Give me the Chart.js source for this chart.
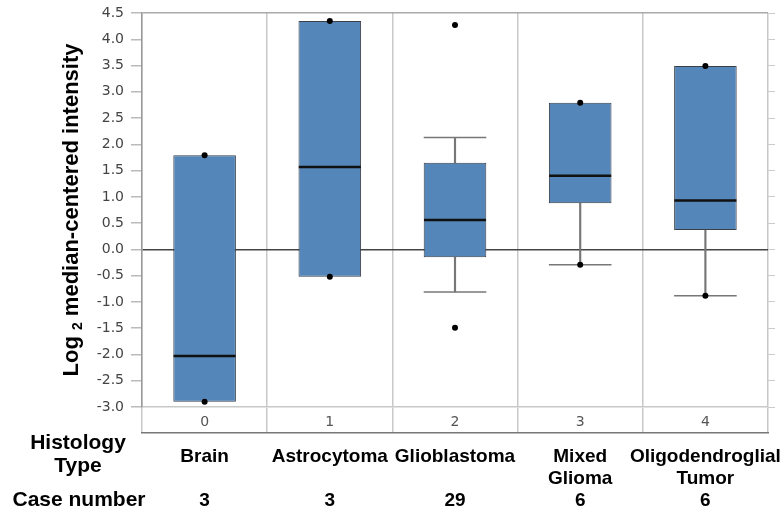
<!DOCTYPE html>
<html>
<head>
<meta charset="utf-8">
<script src="https://cdn.jsdelivr.net/npm/chart.js@4.4.1/dist/chart.umd.min.js"></script>
<style>
  html, body { margin: 0; padding: 0; background: #fff; }
  #wrap { width: 784px; height: 514px; }
</style>
</head>
<body>
<div id="wrap"><canvas id="box-chart"></canvas></div>
<script>
// Data
const categories = ['0', '1', '2', '3', '4'];
const histology = [['Brain'], ['Astrocytoma'], ['Glioblastoma'], ['Mixed', 'Glioma'], ['Oligodendroglial', 'Tumor']];
const caseNumbers = ['3', '3', '29', '6', '6'];

const q1 = [-2.90, -0.52, -0.15, 0.88, 0.37];
const median = [-2.03, 1.57, 0.56, 1.40, 0.93];
const q3 = [1.79, 4.35, 1.65, 2.79, 3.49];
const whiskerLow = [null, null, -0.81, -0.29, -0.88];
const whiskerHigh = [null, null, 2.13, null, null];

const dotCats = ['0', '0', '1', '1', '2', '2', '3', '3', '4', '4'];
const dotValues = [1.79, -2.90, 4.35, -0.52, 4.27, -1.49, 2.79, -0.29, 3.49, -0.88];

const tickFont = { family: "'DejaVu Sans', sans-serif", size: 14 };
const labelFont = { family: "'Liberation Sans', Arial, sans-serif", size: 19, weight: 'bold' };

// floating bars built from the arrays
const boxData = categories.map((c, i) => [q1[i], q3[i]]);
const lowStem = categories.map((c, i) => whiskerLow[i] == null ? null : [whiskerLow[i], q1[i]]);
const highStem = categories.map((c, i) => whiskerHigh[i] == null ? null : [q3[i], whiskerHigh[i]]);
const capData = [];
categories.forEach((c, i) => {
    if (whiskerLow[i] != null) capData.push({ x: c, y: whiskerLow[i] });
    if (whiskerHigh[i] != null) capData.push({ x: c, y: whiskerHigh[i] });
});
const dotData = dotCats.map((c, i) => ({ x: c, y: dotValues[i] }));

function noPad(s) {
    s.paddingLeft = 0;
    s.paddingRight = 0;
    s.paddingTop = 0;
    s.paddingBottom = 0;
}

// left side headers and y title
const sideText = {
    id: 'sideText',
    afterDraw(chart) {
        const ctx = chart.ctx;
        const area = chart.chartArea;
        const x2 = chart.scales.x2;
        const x3 = chart.scales.x3;
        ctx.save();
        ctx.fillStyle = '#000';
        ctx.textAlign = 'center';
        ctx.textBaseline = 'middle';
        ctx.font = "bold 21px 'Liberation Sans', Arial, sans-serif";
        ctx.fillText('Histology', 78, x2.top + 10);
        ctx.fillText('Type', 78, x2.top + 33);
        ctx.fillText('Case number', 79, x3.top + 11);

        // rotated y title with subscript
        const cy = (area.top + area.bottom) / 2;
        ctx.translate(72, cy);
        ctx.rotate(-Math.PI / 2);
        const big = "bold 22px 'Liberation Sans', Arial, sans-serif";
        const small = "bold 14px 'Liberation Sans', Arial, sans-serif";
        ctx.font = big;
        const w1 = ctx.measureText('Log ').width;
        const w3 = ctx.measureText(' median-centered intensity').width;
        ctx.font = small;
        const w2 = ctx.measureText('2').width;
        let x = -(w1 + w2 + w3) / 2;
        ctx.textAlign = 'left';
        ctx.font = big;
        ctx.fillText('Log ', x, 0);
        x += w1;
        ctx.font = small;
        ctx.fillText('2', x, 6);
        x += w2;
        ctx.font = big;
        ctx.fillText(' median-centered intensity', x, 0);
        ctx.restore();
    }
};

const ctx = document.getElementById('box-chart').getContext('2d');
new Chart(ctx, {
    type: 'bar',
    data: {
        labels: categories,
        datasets: [
            {
                type: 'line',
                label: 'points',
                data: dotData,
                showLine: false,
                pointRadius: 3,
                pointBackgroundColor: '#000',
                pointBorderWidth: 0,
                order: 0
            },
            {
                type: 'line',
                label: 'median',
                data: median,
                showLine: false,
                pointStyle: 'line',
                pointRadius: 31,
                pointBorderColor: '#111',
                pointBorderWidth: 2.5,
                order: 1
            },
            {
                type: 'line',
                label: 'caps',
                data: capData,
                showLine: false,
                pointStyle: 'line',
                pointRadius: 31.3,
                pointBorderColor: '#777',
                pointBorderWidth: 1.5,
                order: 2
            },
            {
                label: 'box',
                data: boxData,
                backgroundColor: '#5586b9',
                borderColor: '#3a3f48',
                borderWidth: 1,
                borderSkipped: false,
                grouped: false,
                categoryPercentage: 1,
                barPercentage: 0.5,
                order: 3
            },
            {
                label: 'low whisker',
                data: lowStem,
                backgroundColor: '#777',
                barThickness: 1.5,
                grouped: false,
                order: 4
            },
            {
                label: 'high whisker',
                data: highStem,
                backgroundColor: '#777',
                barThickness: 1.5,
                grouped: false,
                order: 4
            }
        ]
    },
    options: {
        responsive: true,
        maintainAspectRatio: false,
        animation: false,
        events: [],
        layout: { autoPadding: false, padding: { top: 13, left: 0, right: 0, bottom: 0 } },
        plugins: {
            legend: { display: false },
            tooltip: { enabled: false }
        },
        scales: {
            x: {
                type: 'category',
                offset: true,
                weight: 0,
                grid: { offset: true, color: '#c8c8c8', lineWidth: 1.5, tickLength: 26, tickColor: '#c8c8c8' },
                border: { display: true, color: '#c8c8c8', width: 1.5 },
                ticks: { color: '#555', font: tickFont, padding: -19, autoSkip: false, maxRotation: 0 },
                afterFit: s => { s.height = 26; noPad(s); }
            },
            x2: {
                type: 'category',
                position: 'bottom',
                labels: histology,
                offset: true,
                weight: 1,
                grid: { display: false, drawTicks: false },
                border: { display: true, color: '#777', width: 1.5 },
                ticks: { color: '#000', font: labelFont, padding: 12, autoSkip: false, maxRotation: 0 },
                afterFit: s => { s.height = 56; noPad(s); }
            },
            x3: {
                type: 'category',
                position: 'bottom',
                labels: caseNumbers,
                offset: true,
                weight: 2,
                grid: { display: false, drawTicks: false },
                border: { display: false },
                ticks: { color: '#000', font: labelFont, padding: 0, autoSkip: false, maxRotation: 0 },
                afterFit: s => { s.height = 25; noPad(s); }
            },
            y: {
                type: 'linear',
                min: -3.0,
                max: 4.5,
                grid: {
                    color: c => {
                        const v = c.tick ? c.tick.value : null;
                        if (v === 0) return '#444';
                        if (v === 4.5) return '#aaa';
                        return 'rgba(0,0,0,0)';
                    },
                    lineWidth: 1.5,
                    tickColor: '#bbb',
                    tickLength: 11
                },
                border: { display: true, color: '#999', width: 1.5 },
                ticks: {
                    stepSize: 0.5,
                    color: '#444',
                    font: tickFont,
                    padding: 7,
                    callback: v => v.toFixed(1)
                },
                afterFit: s => { s.width = 142; noPad(s); }
            },
            y2: {
                type: 'linear',
                position: 'right',
                min: -3.0,
                max: 4.5,
                grid: { drawOnChartArea: false, tickLength: 7, tickColor: '#ccc' },
                border: { display: false },
                ticks: { stepSize: 0.5, display: false },
                afterFit: s => { s.width = 16; noPad(s); }
            }
        }
    },
    plugins: [sideText]
});
</script>
</body>
</html>
